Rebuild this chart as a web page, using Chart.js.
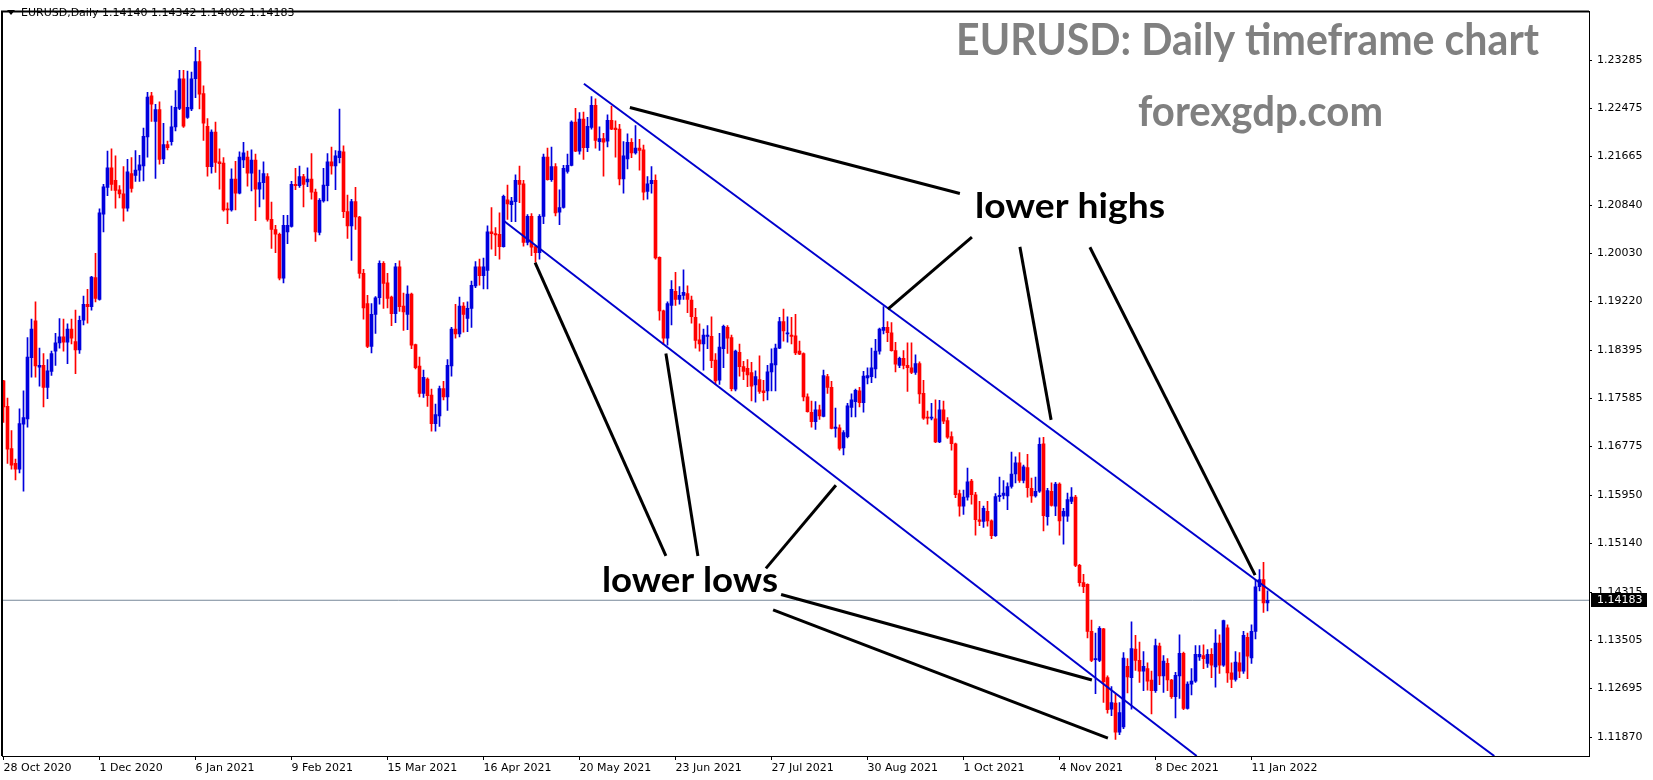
<!DOCTYPE html>
<html>
<head>
<meta charset="utf-8">
<title>EURUSD Daily</title>
<script src="https://cdn.jsdelivr.net/npm/chart.js@4.4.1/dist/chart.umd.min.js"></script>
<style>
  html, body { margin: 0; padding: 0; background: #fff; overflow: hidden; }
  canvas { display: block; }
</style>
</head>
<body>
<canvas id="chart" width="1653" height="780"></canvas>
<script>
// EURUSD daily bars, 28 Oct 2020 .. 17 Jan 2022 (one value per bar)
const opens = [
  1.1788,1.1745,1.1674,1.1649,1.1639,1.1715,1.1724,1.1827,1.1889,1.1811,
  1.1814,1.1777,1.1804,1.1838,1.1852,1.1862,1.1853,1.1875,1.1854,1.1840,
  1.1890,1.1917,1.1913,1.1962,1.1925,1.2069,1.2114,1.2147,1.2126,1.2110,
  1.2103,1.2079,1.2137,1.2134,1.2143,1.2150,1.2199,1.2268,1.2225,1.2245,
  1.2162,1.2186,1.2191,1.2216,1.2247,1.2297,1.2232,1.2246,1.2297,1.2326,
  1.2272,1.2217,1.2149,1.2207,1.2157,1.2155,1.2078,1.2076,1.2128,1.2104,
  1.2160,1.2165,1.2138,1.2160,1.2111,1.2122,1.2132,1.2060,1.2043,1.2035,
  1.1961,1.2039,1.2048,1.2119,1.2117,1.2132,1.2123,1.2128,1.2106,1.2038,
  1.2091,1.2117,1.2157,1.2150,1.2164,1.2174,1.2073,1.2049,1.2090,1.2064,
  1.1969,1.1918,1.1846,1.1900,1.1928,1.1986,1.1953,1.1929,1.1901,1.1980,
  1.1914,1.1900,1.1934,1.1849,1.1813,1.1767,1.1791,1.1764,1.1716,1.1729,
  1.1775,1.1761,1.1813,1.1875,1.1867,1.1914,1.1893,1.1910,1.1948,1.1980,
  1.1965,1.1974,1.2039,1.2036,1.2035,1.2014,1.2093,1.2085,1.2090,1.2126,
  1.2120,1.2021,1.2065,1.2014,1.2004,1.2065,1.2165,1.2127,1.2149,1.2072,
  1.2080,1.2141,1.2151,1.2224,1.2175,1.2229,1.2181,1.2215,1.2252,1.2191,
  1.2196,1.2192,1.2227,1.2214,1.2212,1.2128,1.2162,1.2190,1.2172,1.2180,
  1.2177,1.2107,1.2120,1.2126,1.1996,1.1906,1.1860,1.1915,1.1939,1.1925,
  1.1932,1.1935,1.1924,1.1895,1.1857,1.1850,1.1863,1.1863,1.1823,1.1789,
  1.1842,1.1878,1.1861,1.1774,1.1836,1.1812,1.1809,1.1802,1.1781,1.1790,
  1.1771,1.1771,1.1803,1.1815,1.1843,1.1888,1.1867,1.1865,1.1864,1.1838,
  1.1834,1.1761,1.1735,1.1719,1.1739,1.1728,1.1795,1.1777,1.1708,1.1709,
  1.1675,1.1694,1.1743,1.1753,1.1771,1.1751,1.1793,1.1795,1.1808,1.1838,
  1.1873,1.1878,1.1869,1.1839,1.1814,1.1826,1.1814,1.1810,1.1802,1.1817,
  1.1767,1.1727,1.1725,1.1724,1.1685,1.1739,1.1721,1.1694,1.1682,1.1598,
  1.1577,1.1592,1.1619,1.1596,1.1554,1.1551,1.1568,1.1552,1.1527,1.1593,
  1.1595,1.1594,1.1610,1.1631,1.1650,1.1620,1.1642,1.1607,1.1594,1.1602,
  1.1682,1.1559,1.1602,1.1577,1.1614,1.1560,1.1560,1.1585,1.1592,1.1477,
  1.1448,1.1445,1.1366,1.1318,1.1317,1.1370,1.1288,1.1235,1.1245,1.1196,
  1.1205,1.1307,1.1288,1.1336,1.1317,1.1299,1.1303,1.1284,1.1266,1.1341,
  1.1291,1.1312,1.1284,1.1256,1.1291,1.1329,1.1236,1.1277,1.1282,1.1323,
  1.1325,1.1312,1.1327,1.1306,1.1346,1.1309,1.1372,1.1296,1.1285,1.1313,
  1.1299,1.1356,1.1321,1.1366,1.1441,1.1453,1.14140
];
const highs = [
  1.1789,1.1759,1.1704,1.1656,1.1741,1.1771,1.1861,1.1892,1.1921,1.1843,
  1.1834,1.1824,1.1838,1.1868,1.1893,1.1892,1.1884,1.1892,1.1907,1.1897,
  1.1931,1.1942,1.1964,1.2003,1.2078,1.2119,1.2175,1.2179,1.2167,1.2117,
  1.2149,1.2161,1.2164,1.2176,1.2168,1.2214,1.2274,1.2274,1.2254,1.2258,
  1.2222,1.2192,1.2251,1.2277,1.2311,1.2311,1.2310,1.2308,1.2350,1.2345,
  1.2285,1.2230,1.2211,1.2224,1.2179,1.2164,1.2088,1.2145,1.2158,1.2174,
  1.2190,1.2175,1.2177,1.2170,1.2143,1.2157,1.2137,1.2089,1.2050,1.2037,
  1.2067,1.2067,1.2124,1.2146,1.2150,1.2136,1.2147,1.2171,1.2111,1.2095,
  1.2146,1.2171,1.2182,1.2176,1.2246,1.2184,1.2101,1.2094,1.2114,1.2065,
  1.1976,1.1932,1.1918,1.1930,1.1990,1.1989,1.1969,1.1931,1.1986,1.1990,
  1.1936,1.1948,1.1936,1.1850,1.1828,1.1806,1.1793,1.1774,1.1749,1.1779,
  1.1787,1.1824,1.1878,1.1917,1.1929,1.1920,1.1921,1.1956,1.1989,1.1993,
  1.1995,1.2049,1.2080,1.2046,1.2071,1.2101,1.2118,1.2097,1.2135,1.2150,
  1.2126,1.2068,1.2070,1.2015,1.2068,1.2170,1.2180,1.2182,1.2154,1.2110,
  1.2151,1.2170,1.2226,1.2247,1.2240,1.2241,1.2232,1.2267,1.2263,1.2216,
  1.2205,1.2236,1.2251,1.2226,1.2220,1.2191,1.2204,1.2196,1.2218,1.2195,
  1.2185,1.2132,1.2149,1.2135,1.1997,1.1907,1.1921,1.1957,1.1971,1.1947,
  1.1975,1.1948,1.1931,1.1910,1.1884,1.1875,1.1881,1.1896,1.1834,1.1868,
  1.1882,1.1881,1.1865,1.1840,1.1850,1.1821,1.1824,1.1819,1.1805,1.1830,
  1.1789,1.1814,1.1842,1.1850,1.1895,1.1909,1.1896,1.1895,1.1900,1.1855,
  1.1835,1.1766,1.1754,1.1753,1.1747,1.1806,1.1799,1.1787,1.1742,1.1714,
  1.1704,1.1750,1.1766,1.1774,1.1777,1.1804,1.1810,1.1843,1.1858,1.1877,
  1.1913,1.1888,1.1886,1.1853,1.1828,1.1839,1.1852,1.1852,1.1832,1.1820,
  1.1789,1.1737,1.1750,1.1756,1.1755,1.1754,1.1726,1.1702,1.1683,1.1604,
  1.1604,1.1641,1.1622,1.1600,1.1585,1.1577,1.1585,1.1554,1.1598,1.1626,
  1.1620,1.1616,1.1668,1.1660,1.1667,1.1646,1.1664,1.1624,1.1626,1.1692,
  1.1693,1.1607,1.1616,1.1617,1.1616,1.1573,1.1599,1.1608,1.1595,1.1479,
  1.1462,1.1446,1.1385,1.1363,1.1374,1.1371,1.1291,1.1273,1.1260,1.1246,
  1.1330,1.1320,1.1382,1.1359,1.1348,1.1332,1.1313,1.1299,1.1353,1.1346,
  1.1325,1.1320,1.1285,1.1297,1.1360,1.1331,1.1281,1.1303,1.1342,1.1342,
  1.1343,1.1335,1.1337,1.1369,1.1360,1.1385,1.1377,1.1313,1.1332,1.1330,
  1.1366,1.1363,1.1377,1.1452,1.1470,1.1482,1.14342
];
const lows = [
  1.1718,1.1649,1.1639,1.1621,1.1633,1.1602,1.1710,1.1794,1.1794,1.1779,
  1.1744,1.1758,1.1797,1.1814,1.1843,1.1838,1.1817,1.1850,1.1800,1.1834,
  1.1882,1.1885,1.1907,1.1921,1.1924,1.2039,1.2100,1.2109,1.2079,1.2096,
  1.2057,1.2074,1.2106,1.2124,1.2124,1.2125,1.2165,1.2225,1.2129,1.2153,
  1.2154,1.2177,1.2185,1.2209,1.2245,1.2215,1.2230,1.2243,1.2265,1.2246,
  1.2193,1.2133,1.2138,1.2139,1.2111,1.2074,1.2053,1.2074,1.2076,1.2103,
  1.2147,1.2116,1.2108,1.2058,1.2081,1.2094,1.2057,1.2011,1.2004,1.1958,
  1.1953,1.2019,1.2047,1.2110,1.2114,1.2081,1.2115,1.2094,1.2023,1.2034,
  1.2089,1.2091,1.2136,1.2110,1.2155,1.2063,1.2028,1.1991,1.2043,1.1961,
  1.1892,1.1844,1.1835,1.1868,1.1917,1.1910,1.1911,1.1881,1.1886,1.1905,
  1.1873,1.1874,1.1842,1.1808,1.1761,1.1760,1.1745,1.1703,1.1703,1.1711,
  1.1756,1.1738,1.1796,1.1860,1.1862,1.1870,1.1871,1.1878,1.1945,1.1949,
  1.1943,1.1943,1.2010,1.1999,1.1993,1.2013,1.2060,1.2056,1.2056,1.2088,
  1.2015,1.2017,1.1999,1.1988,1.1993,1.2053,1.2126,1.2124,1.2066,1.2051,
  1.2079,1.2138,1.2150,1.2174,1.2170,1.2161,1.2174,1.2212,1.2180,1.2176,
  1.2133,1.2182,1.2211,1.2165,1.2118,1.2104,1.2145,1.2164,1.2170,1.2143,
  1.2093,1.2094,1.2104,1.1993,1.1890,1.1849,1.1848,1.1882,1.1915,1.1917,
  1.1925,1.1903,1.1885,1.1843,1.1838,1.1806,1.1842,1.1810,1.1782,1.1782,
  1.1810,1.1834,1.1771,1.1771,1.1796,1.1790,1.1778,1.1754,1.1752,1.1767,
  1.1754,1.1756,1.1771,1.1771,1.1842,1.1855,1.1853,1.1850,1.1832,1.1832,
  1.1754,1.1735,1.1710,1.1706,1.1723,1.1727,1.1767,1.1707,1.1693,1.1671,
  1.1663,1.1692,1.1727,1.1727,1.1744,1.1735,1.1783,1.1785,1.1793,1.1833,
  1.1867,1.1854,1.1838,1.1803,1.1810,1.1808,1.1770,1.1800,1.1799,1.1750,
  1.1723,1.1715,1.1722,1.1684,1.1684,1.1716,1.1691,1.1671,1.1591,1.1560,
  1.1563,1.1587,1.1580,1.1528,1.1544,1.1541,1.1543,1.1522,1.1526,1.1585,
  1.1589,1.1571,1.1607,1.1616,1.1617,1.1616,1.1592,1.1583,1.1592,1.1600,
  1.1535,1.1545,1.1577,1.1561,1.1528,1.1513,1.1551,1.1581,1.1475,1.1442,
  1.1431,1.1355,1.1315,1.1261,1.1315,1.1246,1.1228,1.1224,1.1184,1.1192,
  1.1202,1.1262,1.1235,1.1300,1.1280,1.1266,1.1267,1.1227,1.1263,1.1276,
  1.1263,1.1266,1.1253,1.1220,1.1253,1.1234,1.1235,1.1259,1.1280,1.1317,
  1.1303,1.1305,1.1288,1.1272,1.1295,1.1307,1.1280,1.1271,1.1282,1.1288,
  1.1295,1.1286,1.1312,1.1353,1.1434,1.1398,1.14002
];
const closes = [
  1.1744,1.1673,1.1646,1.1639,1.1716,1.1726,1.1828,1.1875,1.1813,1.1814,
  1.1777,1.1805,1.1834,1.1852,1.1862,1.1853,1.1875,1.1860,1.1840,1.1890,
  1.1917,1.1913,1.1963,1.1927,1.2071,1.2115,1.2147,1.2119,1.2109,1.2103,
  1.2079,1.2140,1.2112,1.2143,1.2152,1.2200,1.2266,1.2254,1.2245,1.2161,
  1.2186,1.2181,1.2216,1.2249,1.2297,1.2217,1.2249,1.2297,1.2326,1.2271,
  1.2222,1.2149,1.2207,1.2156,1.2154,1.2076,1.2076,1.2128,1.2104,1.2165,
  1.2172,1.2138,1.2160,1.2111,1.2122,1.2137,1.2060,1.2043,1.2035,1.1961,
  1.2050,1.2050,1.2119,1.2117,1.2132,1.2119,1.2128,1.2106,1.2039,1.2092,
  1.2118,1.2157,1.2150,1.2167,1.2175,1.2073,1.2049,1.2090,1.2064,1.1969,
  1.1911,1.1846,1.1900,1.1928,1.1986,1.1952,1.1927,1.1901,1.1980,1.1913,
  1.1904,1.1934,1.1848,1.1810,1.1767,1.1794,1.1763,1.1716,1.1731,1.1775,
  1.1761,1.1814,1.1875,1.1867,1.1914,1.1900,1.1910,1.1949,1.1980,1.1965,
  1.1980,1.2039,1.2036,1.2034,1.2014,1.2099,1.2086,1.2091,1.2126,1.2119,
  1.2021,1.2065,1.2013,1.2004,1.2065,1.2165,1.2127,1.2149,1.2071,1.2080,
  1.2146,1.2151,1.2224,1.2175,1.2229,1.2181,1.2217,1.2252,1.2193,1.2196,
  1.2190,1.2227,1.2212,1.2211,1.2128,1.2167,1.2190,1.2172,1.2180,1.2176,
  1.2106,1.2120,1.2126,1.1995,1.1906,1.1860,1.1918,1.1942,1.1925,1.1932,
  1.1937,1.1925,1.1896,1.1856,1.1850,1.1865,1.1865,1.1822,1.1788,1.1845,
  1.1880,1.1860,1.1775,1.1838,1.1812,1.1804,1.1798,1.1779,1.1795,1.1770,
  1.1768,1.1803,1.1817,1.1843,1.1888,1.1872,1.1869,1.1863,1.1835,1.1833,
  1.1761,1.1736,1.1719,1.1739,1.1729,1.1797,1.1777,1.1708,1.1710,1.1674,
  1.1701,1.1746,1.1756,1.1772,1.1751,1.1796,1.1797,1.1810,1.1838,1.1875,
  1.1878,1.1869,1.1839,1.1816,1.1826,1.1814,1.1810,1.1802,1.1817,1.1766,
  1.1725,1.1725,1.1727,1.1685,1.1739,1.1720,1.1693,1.1682,1.1596,1.1577,
  1.1592,1.1618,1.1596,1.1554,1.1551,1.1573,1.1552,1.1527,1.1593,1.1595,
  1.1599,1.1610,1.1631,1.1650,1.1620,1.1643,1.1608,1.1594,1.1602,1.1681,
  1.1561,1.1603,1.1578,1.1614,1.1552,1.1568,1.1588,1.1592,1.1477,1.1448,
  1.1441,1.1366,1.1317,1.1320,1.1371,1.1281,1.1234,1.1246,1.1196,1.1229,
  1.1321,1.1289,1.1337,1.1317,1.1299,1.1307,1.1282,1.1266,1.1342,1.1291,
  1.1316,1.1284,1.1256,1.1292,1.1329,1.1236,1.1277,1.1282,1.1327,1.1327,
  1.1320,1.1327,1.1309,1.1346,1.1309,1.1384,1.1296,1.1285,1.1314,1.1299,
  1.1359,1.1324,1.1366,1.1441,1.1453,1.1414,1.14183
];

// time axis: one label every 24 bars, starting at bar 0
const tickLabels = ['28 Oct 2020', '1 Dec 2020', '6 Jan 2021', '9 Feb 2021', '15 Mar 2021',
  '16 Apr 2021', '20 May 2021', '23 Jun 2021', '27 Jul 2021', '30 Aug 2021',
  '1 Oct 2021', '4 Nov 2021', '8 Dec 2021', '11 Jan 2022'];
const barsPerLabel = 24;
const priceTicks = [1.23285, 1.22475, 1.21665, 1.20840, 1.20030, 1.19220, 1.18395, 1.17585,
  1.16775, 1.15950, 1.15140, 1.14315, 1.13505, 1.12695, 1.11870];

// drawn objects, as [bar, price] pairs
const channelUpper = [[145.1, 1.22885], [372.7, 1.11559]];
const channelLower = [[125.2, 1.2057], [298.3, 1.11559]];
const arrows = [
  [[156.6, 1.22485], [239.1, 1.21036]],
  [[221.1, 1.19087], [242.1, 1.20303]],
  [[254.1, 1.20137], [261.9, 1.17222]],
  [[271.6, 1.2013], [312.9, 1.14607]],
  [[132.9, 1.1987], [165.6, 1.1493]],
  [[165.6, 1.1834], [173.6, 1.1493]],
  [[190.6, 1.1472], [208.1, 1.1612]],
  [[194.4, 1.1428], [272.1, 1.1284]],
  [[192.4, 1.1402], [276.1, 1.1186]]
];

const X_MIN = -0.375, X_MAX = 396.375;
const Y_MIN = 1.11559, Y_MAX = 1.24101;
const BULL = '#0000dd', BEAR = '#ff0000';
const AXIS_FONT = { family: 'DejaVu Sans', size: 11 };

const last = closes.length - 1;
const candleColors = closes.map((c, i) => (c >= opens[i] ? BULL : BEAR));
const toPts = seg => seg.map(p => ({ x: p[0], y: p[1] }));

function lineSet(points, color, width, order) {
  return {
    type: 'line', data: points, borderColor: color, borderWidth: width,
    pointRadius: 0, fill: false, tension: 0, order: order, borderCapStyle: 'butt'
  };
}

const datasets = [
  {
    label: 'body',
    data: opens.map((o, i) => ({ x: i, y: [o, closes[i]] })),
    backgroundColor: candleColors, barThickness: 3, minBarLength: 1,
    grouped: false, order: 4
  },
  {
    label: 'wick',
    data: lows.map((l, i) => ({ x: i, y: [l, highs[i]] })),
    backgroundColor: candleColors, barThickness: 1,
    grouped: false, order: 5
  },
  lineSet([{ x: X_MIN, y: closes[last] }, { x: X_MAX, y: closes[last] }], '#778899', 1, 9),
  lineSet(toPts(channelUpper), '#0000cd', 2, 2),
  lineSet(toPts(channelLower), '#0000cd', 2, 2)
];
arrows.forEach(a => datasets.push(lineSet(toPts(a), '#000000', 3, 1)));

function fitText(ctx, text, x, baseline, width, size, color) {
  ctx.save();
  ctx.font = 'bold ' + size + 'px Lato';
  const w = ctx.measureText(text).width;
  ctx.translate(x, baseline);
  ctx.scale(width / w, 1);
  ctx.fillStyle = color;
  ctx.textBaseline = 'alphabetic';
  ctx.textAlign = 'left';
  ctx.fillText(text, 0, 0);
  ctx.restore();
}

const overlay = {
  id: 'overlay',
  afterDraw(chart) {
    const ctx = chart.ctx;
    const area = chart.chartArea;
    const yScale = chart.scales.y;
    ctx.save();

    // frame on the left and top
    ctx.strokeStyle = '#000';
    ctx.lineWidth = 2;
    ctx.beginPath();
    ctx.moveTo(area.left, area.bottom);
    ctx.lineTo(area.left, area.top);
    ctx.lineTo(area.right, area.top);
    ctx.stroke();

    // header line
    ctx.fillStyle = '#000';
    ctx.beginPath();
    ctx.moveTo(7, 10); ctx.lineTo(15, 10); ctx.lineTo(11, 15);
    ctx.closePath(); ctx.fill();
    ctx.font = '11px "DejaVu Sans"';
    ctx.textBaseline = 'middle';
    ctx.fillText('EURUSD,Daily', 21, 13);
    ctx.fillText([opens[last], highs[last], lows[last], closes[last]].map(v => v.toFixed(5)).join(' '), 102, 13);

    // current price marker
    const py = yScale.getPixelForValue(closes[last]);
    ctx.fillStyle = '#000';
    ctx.fillRect(area.right + 2, Math.round(py) - 7, 56, 14);
    ctx.fillStyle = '#fff';
    ctx.fillText(closes[last].toFixed(5), area.right + 8, Math.round(py));

    // captions
    fitText(ctx, 'EURUSD: Daily timeframe chart', 956, 55, 583, 44, '#808080');
    fitText(ctx, 'forexgdp.com', 1138, 126, 245, 42, '#808080');
    fitText(ctx, 'lower highs', 975, 218, 190, 35, '#000');
    fitText(ctx, 'lower lows', 602, 592, 176, 35, '#000');
    ctx.restore();
  }
};

new Chart(document.getElementById('chart').getContext('2d'), {
  type: 'bar',
  data: { datasets: datasets },
  options: {
    responsive: false,
    animation: false,
    devicePixelRatio: 1,
    layout: { padding: { left: 2, top: 3, right: 0, bottom: 0 } },
    plugins: { legend: { display: false }, tooltip: { enabled: false } },
    scales: {
      x: {
        type: 'linear', min: X_MIN, max: X_MAX, offset: false,
        afterBuildTicks: s => { s.ticks = tickLabels.map((t, i) => ({ value: i * barsPerLabel })); },
        afterFit: s => { s.height = 24; },
        grid: { offset: false, drawOnChartArea: false, drawTicks: true, tickLength: 4, color: '#000' },
        border: { display: true, color: '#000' },
        ticks: {
          autoSkip: false, maxRotation: 0, align: 'start', padding: 2,
          color: '#000', font: AXIS_FONT,
          callback: (v, i) => tickLabels[i]
        }
      },
      y: {
        type: 'linear', position: 'right', min: Y_MIN, max: Y_MAX,
        afterBuildTicks: s => { s.ticks = priceTicks.map(v => ({ value: v })); },
        afterFit: s => { s.width = 64; },
        grid: { drawOnChartArea: false, drawTicks: true, tickLength: 3, color: '#000' },
        border: { display: true, color: '#000' },
        ticks: {
          autoSkip: false, padding: 5, color: '#000', font: AXIS_FONT,
          callback: v => v.toFixed(5)
        }
      }
    }
  },
  plugins: [overlay]
});
</script>
</body>
</html>
